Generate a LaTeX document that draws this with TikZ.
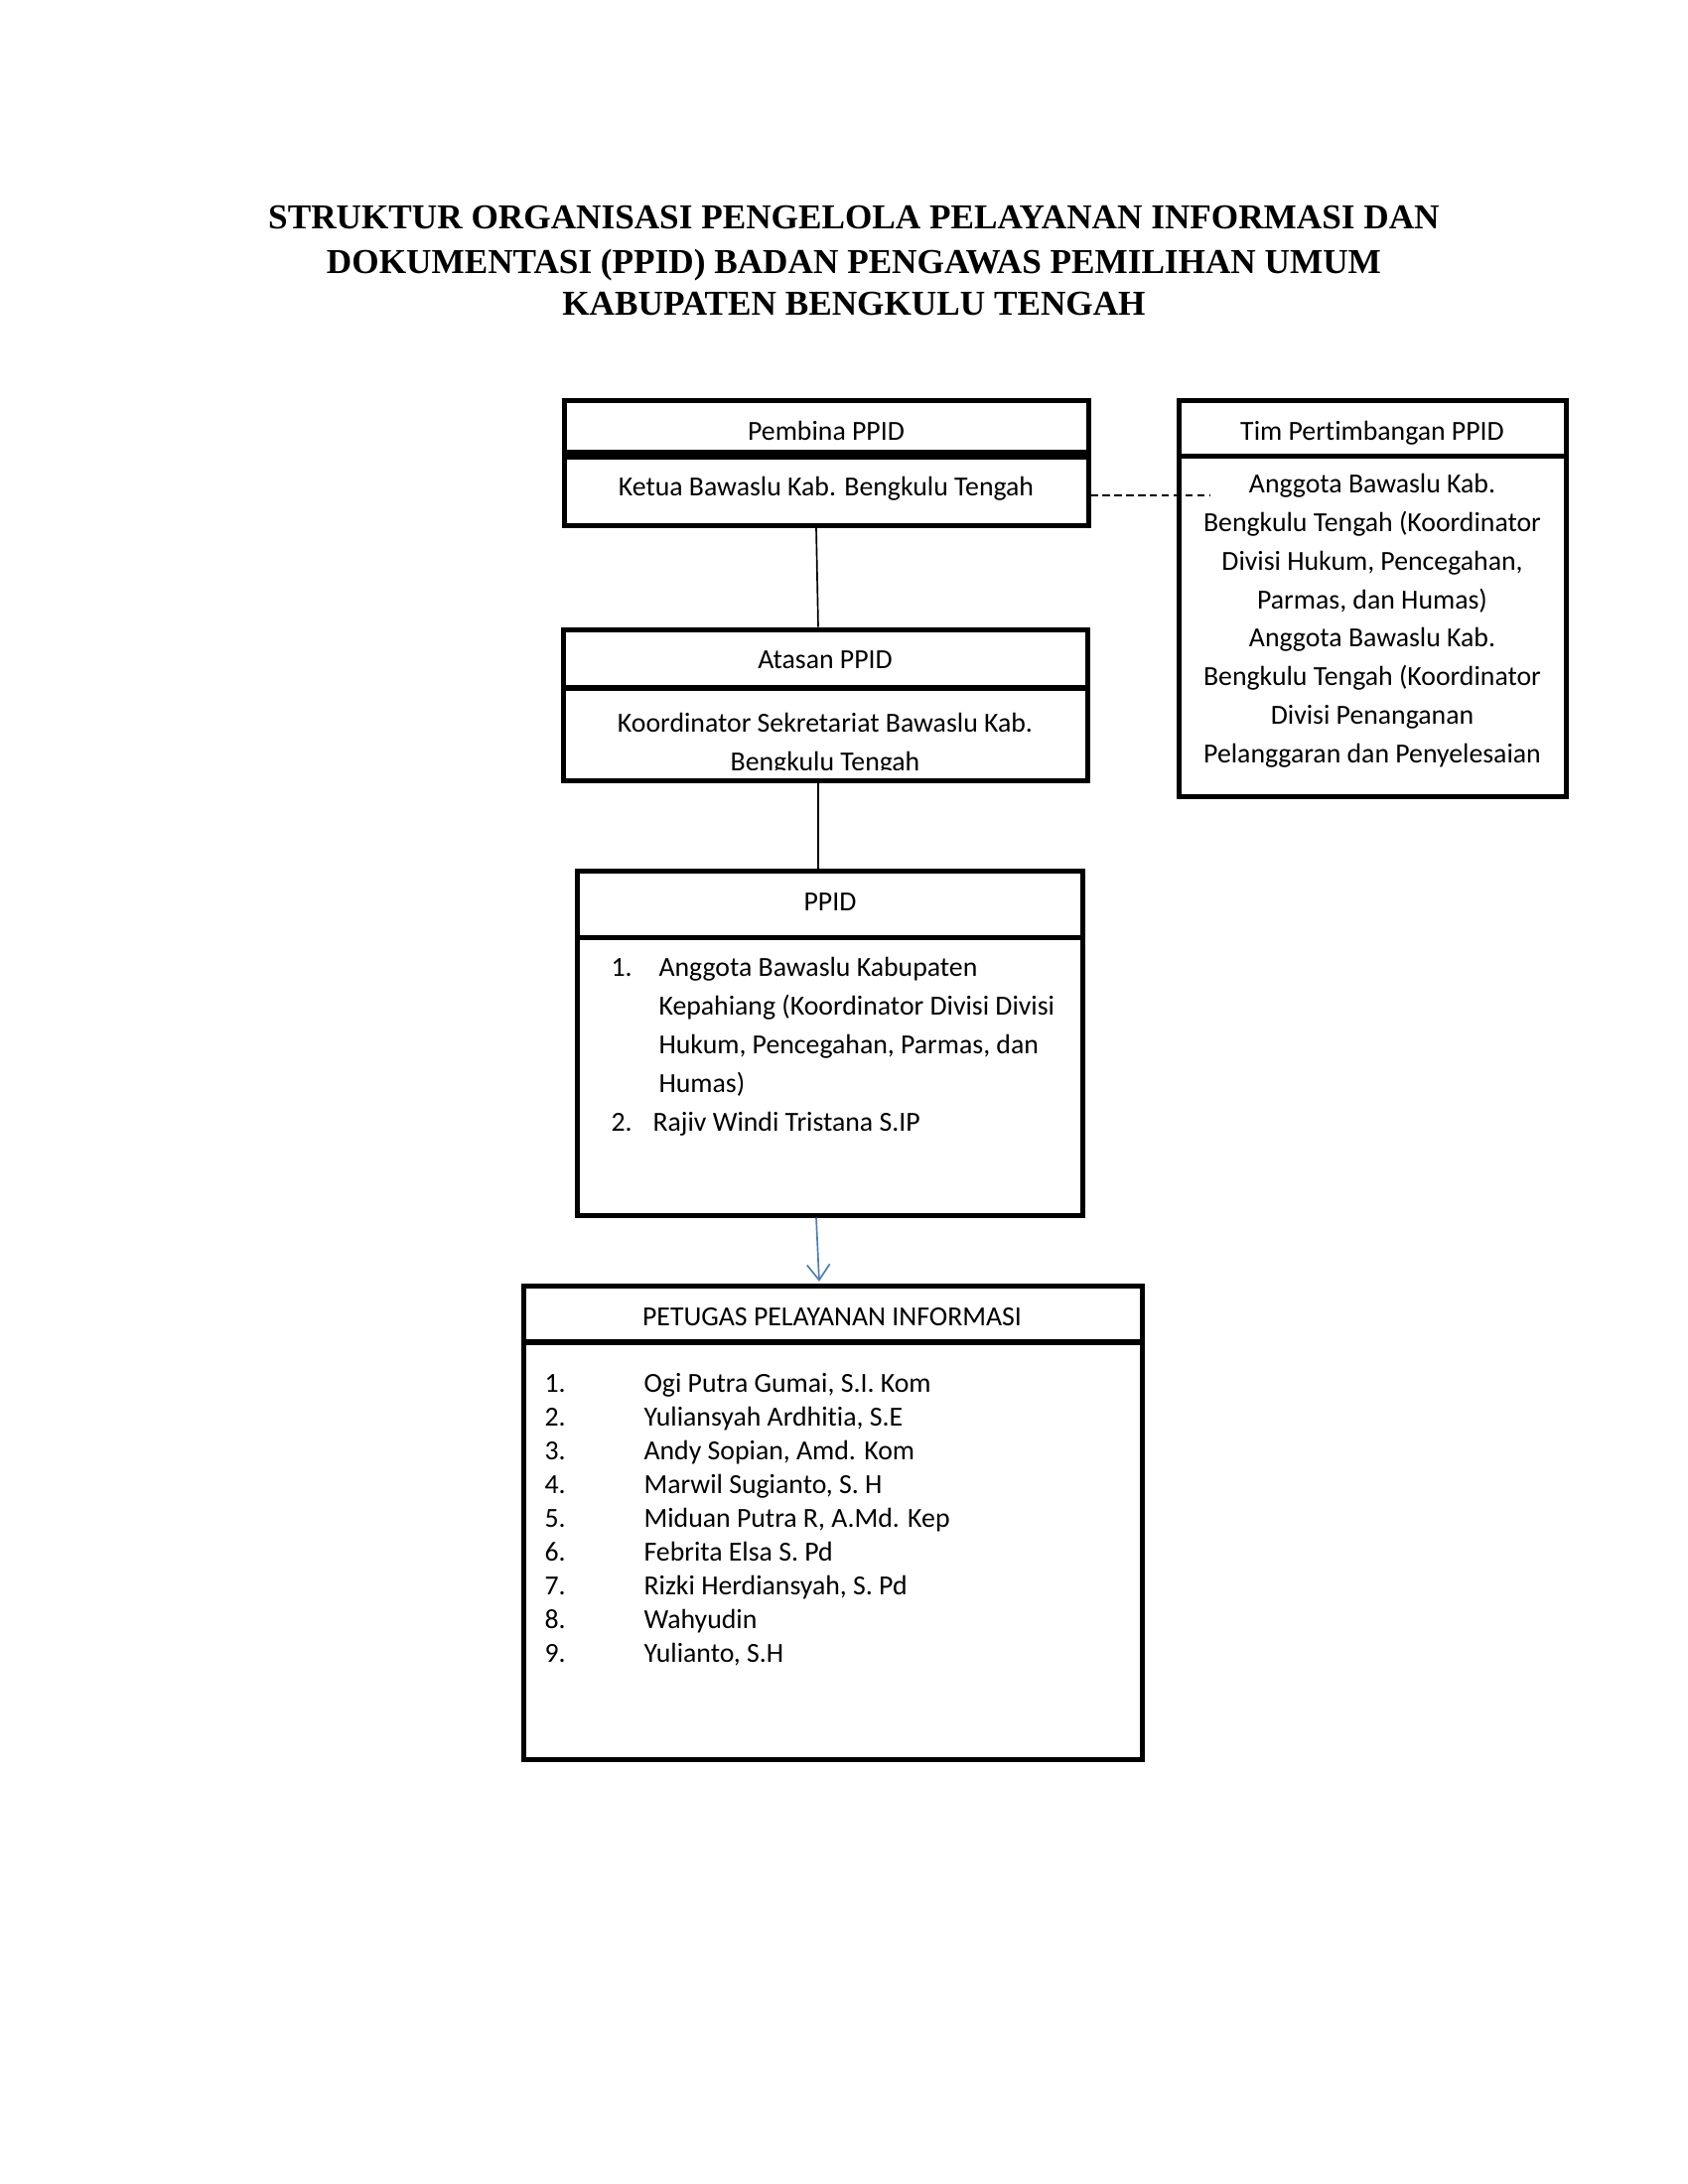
\documentclass[tikz,border=0pt]{standalone}
\usepackage{fontspec}
\setmainfont{Carlito}[Ligatures=NoCommon]
\newfontfamily\titlefont{Liberation Serif}
\usetikzlibrary{arrows.meta,fit}
\definecolor{arrowblue}{RGB}{74,126,187}
\tikzset{
  box/.style={draw, line width=1.8pt, inner sep=0pt},
  divider/.style={line width=#1},
  txt/.style={inner sep=0pt, anchor=base, font=\fontsize{10}{12}\selectfont},
  txtl/.style={txt, anchor=base west},
  ttl/.style={inner sep=0pt, anchor=base, font=\titlefont\bfseries\fontsize{12.67}{15}\selectfont},
  conn/.style={line width=0.6pt},
  dashconn/.style={line width=1pt, dash pattern=on 2.6pt off 1.7pt},
  bluearrow/.style={line width=0.6pt, draw=arrowblue, -{Straight Barb[length=5.6pt,width=8.2pt]}}
}
\begin{document}
\begin{tikzpicture}[x=0.36pt,y=-0.36pt]
\useasboundingbox (0,0) rectangle (1700,2200);
\fill[white] (0,0) rectangle (1700,2200);

% title
\node[ttl] (t1) at (860,231) {STRUKTUR ORGANISASI PENGELOLA PELAYANAN INFORMASI DAN};
\node[ttl] (t2) at (860,275) {DOKUMENTASI (PPID) BADAN PENGAWAS PEMILIHAN UMUM};
\node[ttl] (t3) at (860,318) {KABUPATEN BENGKULU TENGAH};

% boxes
\node[box, fit={(568,403)(1096,529)}] (pemb) {};
\node[box, fit={(1187,403)(1577,802)}] (tim) {};
\node[box, fit={(567,634)(1095,786)}] (atas) {};
\node[box, fit={(581,877)(1090,1224)}] (ppid) {};
\node[box, fit={(527,1295)(1150,1772)}] (pet) {};

% dividers
\draw[divider=3.4pt] (568,458) -- (1096,458);
\draw[divider=1.9pt] (1187,459.5) -- (1577,459.5);
\draw[divider=2.1pt] (567,693) -- (1095,693);
\draw[divider=2.1pt] (581,944.5) -- (1090,944.5);
\draw[divider=2.1pt] (527,1352) -- (1150,1352);

% Pembina
\node[txt] (pembh) at (832,443) {Pembina PPID};
\node[txt] (pembb) at (832,499) {Ketua Bawaslu Kab. Bengkulu Tengah};

% Tim Pertimbangan
\node[txt] (timh) at (1382,443) {Tim Pertimbangan PPID};
\node[txt] (tim1) at (1382,496) {Anggota Bawaslu Kab.};
\node[txt] (tim2) at (1382,535) {Bengkulu Tengah (Koordinator};
\node[txt] (tim3) at (1382,574) {Divisi Hukum, Pencegahan,};
\node[txt] (tim4) at (1382,613) {Parmas, dan Humas)};
\node[txt] (tim5) at (1382,651) {Anggota Bawaslu Kab.};
\node[txt] (tim6) at (1382,690) {Bengkulu Tengah (Koordinator};
\node[txt] (tim7) at (1382,729) {Divisi Penanganan};
\node[txt] (tim8) at (1382,768) {Pelanggaran dan Penyelesaian};

% Atasan
\node[txt] (atash) at (831,673) {Atasan PPID};
\begin{scope}
\clip (569,700) rectangle (1093,775);
\node[txt] (atas1) at (831,737) {Koordinator Sekretariat Bawaslu Kab.};
\node[txt] (atas2) at (831,776) {Bengkulu Tengah};
\end{scope}

% PPID
\node[txt] (ppidh) at (836,917) {PPID};
\node[txtl] (pn1) at (615,983) {1.};
\node[txtl] (pl1) at (663,983) {Anggota Bawaslu Kabupaten};
\node[txtl] (pl2) at (663,1022) {Kepahiang (Koordinator Divisi Divisi};
\node[txtl] (pl3) at (663,1061) {Hukum, Pencegahan, Parmas, dan};
\node[txtl] (pl4) at (663,1100) {Humas)};
\node[txtl] (pn2) at (615,1139) {2.};
\node[txtl] (pl5) at (657,1139) {Rajiv Windi Tristana S.IP};

% Petugas
\node[txt] (peth) at (838,1335) {PETUGAS PELAYANAN INFORMASI};
\foreach \i/\name [evaluate=\i as \yy using 1402+34*(\i-1)] in {
  1/{Ogi Putra Gumai, S.I. Kom},
  2/{Yuliansyah Ardhitia, S.E},
  3/{Andy Sopian, Amd. Kom},
  4/{Marwil Sugianto, S. H},
  5/{Miduan Putra R, A.Md. Kep},
  6/{Febrita Elsa S. Pd},
  7/{Rizki Herdiansyah, S. Pd},
  8/{Wahyudin},
  9/{Yulianto, S.H}} {
  \node[txtl] (petn\i) at (548,\yy) {\i.};
  \node[txtl] (petl\i) at (648,\yy) {\name};
}

% connectors
\coordinate (v1) at (822,0);
\coordinate (v2) at (824,0);
\coordinate (v3) at (825,0);
\coordinate (dashend) at (1219,499);
\draw[conn] (pemb.south -| v1) -- (atas.north -| v2);
\draw[conn] (atas.south -| v2) -- (ppid.north -| v2);
\draw[bluearrow] (ppid.south -| v1) -- ([yshift=0.6pt]pet.north -| v3);
\draw[dashconn] (pemb.east |- dashend) -- (dashend);
\end{tikzpicture}
\end{document}
